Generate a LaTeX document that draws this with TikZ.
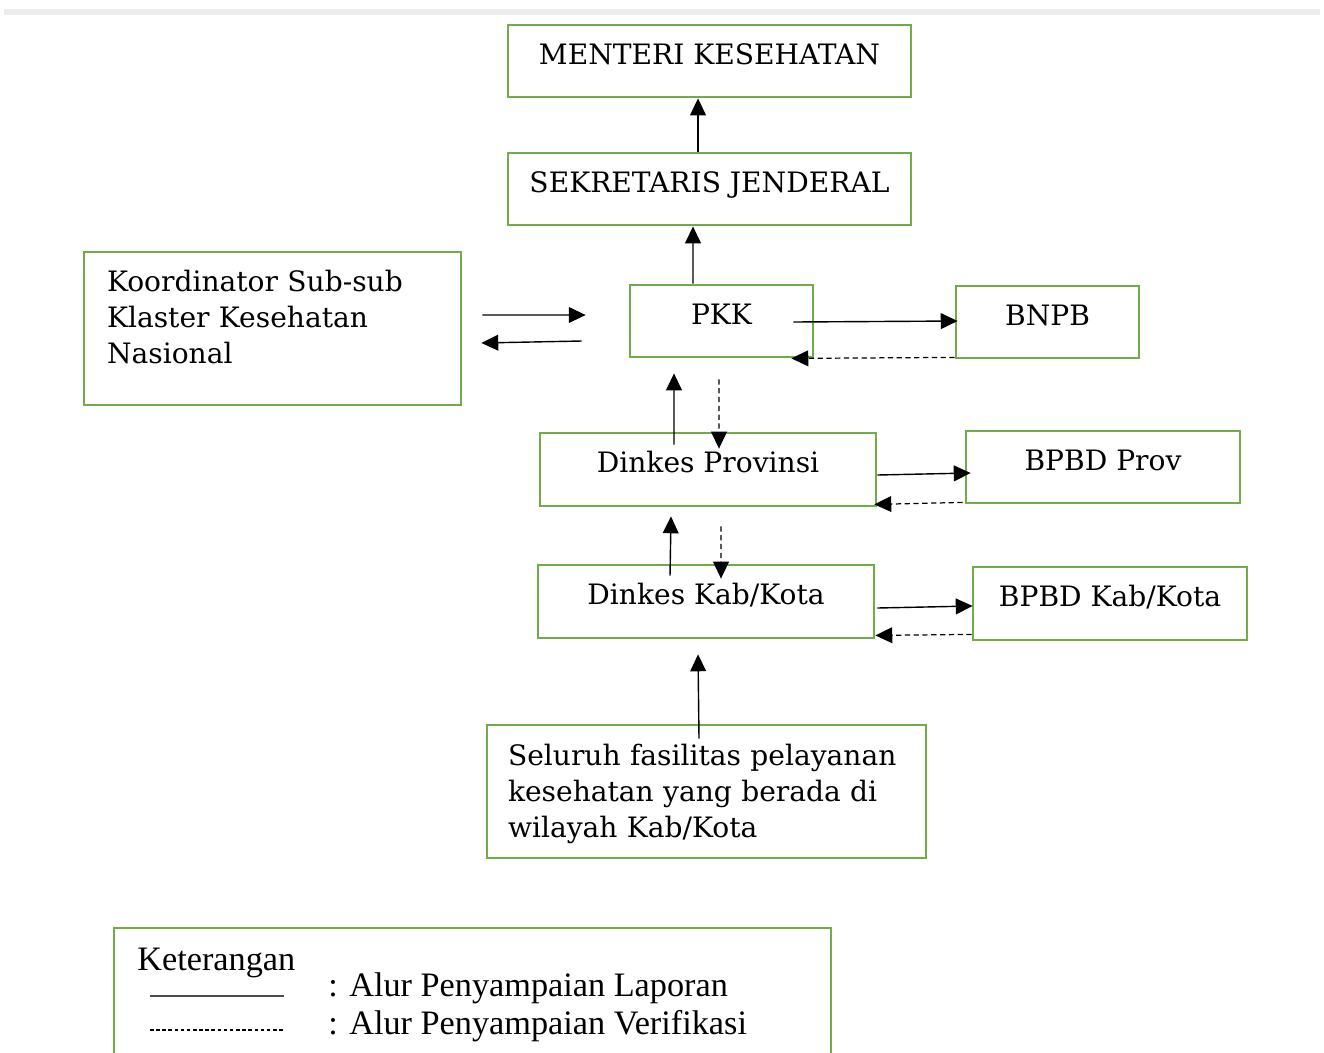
\documentclass[tikz,border=0pt]{standalone}
\usepackage{fontspec}
\setmainfont{DejaVu Serif}
\newfontfamily\ketfont{Liberation Serif}
\usetikzlibrary{arrows.meta}
\usetikzlibrary{positioning}
\definecolor{box-green}{RGB}{112, 173, 71}
\definecolor{page-gray}{RGB}{236, 236, 236}
\tikzset{
  kotak/.style={draw=box-green, line width=1.6pt, rectangle, inner sep=0pt},
  satu/.style={kotak, text height=0.42cm, text depth=0.30cm},
  banyak/.style={kotak, align=left, text height=0.42cm},
  lapor/.style={-{Triangle[length=9.6pt,width=9pt]}, line width=0.8pt},
  verif/.style={lapor, dash pattern=on 3pt off 2pt, line width=0.7pt},
  ket/.style={font=\ketfont\fontsize{19.5}{22}\selectfont, anchor=base west, inner sep=0pt}
}

\begin{document}
\begin{tikzpicture}[x=0.02cm, y=-0.02cm, font=\fontsize{16}{20.7}\selectfont]
\useasboundingbox (0,0) rectangle (1324,1052);
\clip (0,0) rectangle (1324,1052);
\draw[page-gray, line width=3pt] (4,12) -- (1320,12);

\node[satu, minimum width=8.06cm, minimum height=1.44cm] (menteri) at (709.5,61) {MENTERI KESEHATAN};
\node[satu, minimum width=8.06cm, minimum height=1.44cm] (sekjen) at (709.5,189) {SEKRETARIS JENDERAL};
\node[satu, minimum width=3.66cm, minimum height=1.44cm] (pkk) at (721.5,321) {PKK};
\node[satu, minimum width=3.66cm, minimum height=1.44cm] (bnpb) at (1047.5,322) {BNPB};
\node[banyak, minimum width=7.54cm, minimum height=3.06cm, text width=6.62cm, text depth=1.92cm] (koord) at (272.5,328.5) {Koordinator Sub-sub\\Klaster Kesehatan\\Nasional};
\node[satu, minimum width=6.72cm, minimum height=1.46cm] (dinprov) at (708,469.5) {Dinkes Provinsi};
\node[satu, minimum width=5.48cm, minimum height=1.44cm] (bpbdprov) at (1103,467) {BPBD Prov};
\node[satu, minimum width=6.72cm, minimum height=1.46cm] (dinkab) at (706,601.5) {Dinkes Kab/Kota};
\node[satu, minimum width=5.48cm, minimum height=1.46cm] (bpbdkab) at (1110,603.5) {BPBD Kab/Kota};
\node[banyak, minimum width=8.78cm, minimum height=2.66cm, text width=7.94cm, text depth=1.48cm] (seluruh) at (706.5,791.5) {Seluruh fasilitas pelayanan\\kesehatan yang berada di\\wilayah Kab/Kota};

% alur laporan dan verifikasi
\draw[lapor] ([xshift=-0.23cm]sekjen.north) -- ([xshift=-0.23cm]menteri.south);
\draw[lapor] ([xshift=-0.57cm]pkk.north) -- ([xshift=-0.33cm]sekjen.south);
\draw[lapor] ([xshift=0.4cm,yshift=0.27cm]koord.east) -- ([xshift=-0.86cm,yshift=0.12cm]pkk.west);
\draw[lapor] ([xshift=-0.94cm,yshift=-0.4cm]pkk.west) -- ([xshift=0.38cm,yshift=-0.29cm]koord.east);
\draw[lapor] ([xshift=-0.42cm,yshift=-0.02cm]pkk.east) -- ([xshift=0.06cm,yshift=0.02cm]bnpb.west);
\draw[verif] ([yshift=0.04cm]bnpb.south west) -- ([xshift=-0.46cm]pkk.south east);
\draw[lapor] ([xshift=-0.68cm,yshift=-0.26cm]dinprov.north) -- ([xshift=-0.95cm,yshift=-0.3cm]pkk.south);
\draw[verif] ([xshift=-0.05cm,yshift=-0.42cm]pkk.south) -- ([xshift=0.22cm,yshift=-0.34cm]dinprov.north);
\draw[lapor] ([yshift=-0.11cm]dinprov.east) -- ([xshift=0.12cm,yshift=-0.12cm]bpbdprov.west);
\draw[verif] ([xshift=-0.04cm,yshift=0.04cm]bpbdprov.south west) -- ([xshift=-0.06cm,yshift=0.06cm]dinprov.south east);
\draw[lapor] ([xshift=-0.72cm,yshift=-0.24cm]dinkab.north) -- ([xshift=-0.74cm,yshift=-0.18cm]dinprov.south);
\draw[verif] ([xshift=0.26cm,yshift=-0.38cm]dinprov.south) -- ([xshift=0.3cm,yshift=-0.3cm]dinkab.north);
\draw[lapor] ([xshift=0.04cm,yshift=-0.13cm]dinkab.east) -- ([xshift=0.02cm,yshift=-0.05cm]bpbdkab.west);
\draw[verif] ([yshift=0.14cm]bpbdkab.south west) -- ([yshift=0.08cm]dinkab.south east);
\draw[lapor] ([xshift=-0.15cm,yshift=-0.3cm]seluruh.north) -- ([xshift=-0.16cm,yshift=-0.3cm]dinkab.south);

% keterangan
\node[kotak, minimum width=14.34cm, minimum height=3.44cm] (legend) at (472.5,1014) {};
\node[ket] (keterangan) at (137,970) {Keterangan};
\coordinate (garis-a) at (150,996);
\coordinate (garis-b) at (284,996);
\coordinate (titik-a) at (150,1030);
\coordinate (titik-b) at (284,1030);
\draw[line width=1.3pt, black!70] (garis-a) -- (garis-b);
\draw[line width=0.6pt, dash pattern=on 2pt off 1.5pt] (titik-a) -- (titik-b);
\node[ket] (laporan) at (328,996) {: Alur Penyampaian Laporan};
\node[ket] (verifikasi) at (328,1034) {: Alur Penyampaian Verifikasi};
\end{tikzpicture}
\end{document}
